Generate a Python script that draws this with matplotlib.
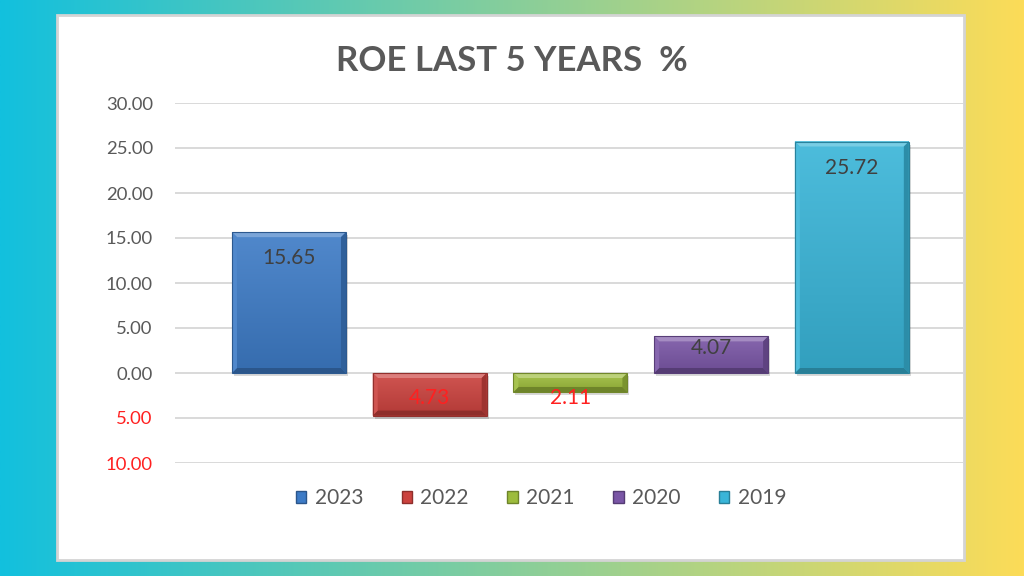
import numpy as np
import matplotlib
matplotlib.use("Agg")
import matplotlib.pyplot as plt
from matplotlib.patches import Rectangle, Polygon, Patch
from matplotlib.colors import to_rgb
from matplotlib.transforms import IdentityTransform

# ---- data ----
years = ["2023", "2022", "2021", "2020", "2019"]
roe = [15.65, -4.73, -2.11, 4.07, 25.72]
colors = ["#3D7BC6", "#CB423E", "#9DBC3C", "#7A56A6", "#39B5D8"]
yticks = [-10, -5, 0, 5, 10, 15, 20, 25, 30]
title = "ROE LAST 5 YEARS  %"

plt.rcParams['font.family'] = ['Lato', 'DejaVu Sans']
W, H = 1024, 576
fig = plt.figure(figsize=(W / 100, H / 100), dpi=100)


def fx(px):
    return px / W


def fy(py):
    return 1 - py / H


def mix(c, other, a):
    c = np.array(to_rgb(c))
    o = np.array(to_rgb(other))
    return tuple(c + (o - c) * a)


# ---- background gradient + white panel ----
bg = fig.add_axes([0, 0, 1, 1])
bg.axis('off')
c0 = np.array(to_rgb("#12C0DE"))
c1 = np.array(to_rgb("#FCDC58"))
t = np.linspace(0, 1, 512)[None, :, None]
grad = c0 + (c1 - c0) * t
bg.imshow(grad, aspect='auto', extent=[0, 1, 0, 1], interpolation='bilinear')
bg.add_patch(Rectangle((fx(57), fy(560)), fx(964) - fx(57), fy(15) - fy(560),
                       facecolor='white', edgecolor='#D4D4D4', lw=2, zorder=2))
bg.set_xlim(0, 1)
bg.set_ylim(0, 1)

# ---- main axes ----
ax = fig.add_axes([fx(175), fy(463), fx(963) - fx(175), fy(103) - fy(463)])
ax.patch.set_alpha(0)
x = np.arange(len(years))
bars = ax.bar(x, roe, width=0.81, color=colors, zorder=3, edgecolor='none')
ax.set_xlim(-0.81, 4.79)
ax.set_ylim(-10, 30)
ax.set_yticks(yticks)
ax.set_yticklabels([f"{abs(v):.2f}" for v in yticks])
ax.set_xticks([])
ax.yaxis.grid(True, color='#D9D9D9', lw=1.4)
ax.set_axisbelow(True)
for s in ax.spines.values():
    s.set_visible(False)
ax.tick_params(axis='y', length=0, pad=16, labelsize=13.3)
for lab, v in zip(ax.get_yticklabels(), yticks):
    lab.set_color('#FF2020' if v < 0 else '#595959')

# ---- bevel effect on bars ----
b = 5
for p, c in zip(bars, colors):
    x0 = p.get_x()
    w = p.get_width()
    y0 = p.get_y()
    h = p.get_height()
    ylo, yhi = min(y0, y0 + h), max(y0, y0 + h)
    (L, B), (R, T) = ax.transData.transform([(x0, ylo), (x0 + w, yhi)])
    idt = IdentityTransform()
    # shadow
    ax.add_patch(Rectangle((L + 2, B - 3), R - L, T - B, transform=idt,
                           facecolor='#000000', alpha=0.15, zorder=2.5, lw=0))
    # face gradient
    g = np.linspace(0, 1, 64)[:, None, None]
    top = np.array(mix(c, 'white', 0.10))
    bot = np.array(mix(c, 'black', 0.12))
    face = top + (bot - top) * g
    ax.imshow(face, extent=[x0, x0 + w, ylo, yhi], aspect='auto',
              interpolation='bilinear', zorder=3.2)
    polys = [
        ([(L, T), (R, T), (R - b, T - b), (L + b, T - b)], mix(c, 'white', 0.32)),
        ([(L, B), (R, B), (R - b, B + b), (L + b, B + b)], mix(c, 'black', 0.30)),
        ([(L, B), (L, T), (L + b, T - b), (L + b, B + b)], mix(c, 'white', 0.10)),
        ([(R, B), (R, T), (R - b, T - b), (R - b, B + b)], mix(c, 'black', 0.22)),
    ]
    for pts, col in polys:
        ax.add_patch(Polygon(pts, closed=True, transform=idt, facecolor=col,
                             edgecolor='none', zorder=3.4))
    ax.add_patch(Rectangle((L, B), R - L, T - B, transform=idt, facecolor='none',
                           edgecolor=mix(c, 'black', 0.28), lw=0.8, zorder=3.5))

ax.set_xlim(-0.81, 4.79)
ax.set_ylim(-10, 30)

# ---- data labels ----
for xi, v in zip(x, roe):
    sgn = 1 if v >= 0 else -1
    ly = sgn * max(abs(v) - 2.9, 2.78)
    ax.text(xi, ly, f"{abs(v):.2f}", ha='center', va='center', fontsize=15,
            color='#404040' if v >= 0 else '#FF2020', zorder=5)

# ---- title ----
fig.text(0.5, fy(61), title, ha='center', va='center', fontsize=25,
         fontweight='bold', color='#595959')

# ---- legend ----
handles = [Patch(facecolor=c, edgecolor=mix(c, 'black', 0.3)) for c in colors]
fig.legend(handles, years, loc='center', bbox_to_anchor=(fx(541), fy(498)),
           ncol=5, frameon=False, fontsize=15, handlelength=0.5, handleheight=0.5,
           handletextpad=0.4, columnspacing=1.85, labelcolor='#595959')

fig.savefig('out.png', dpi=100)
